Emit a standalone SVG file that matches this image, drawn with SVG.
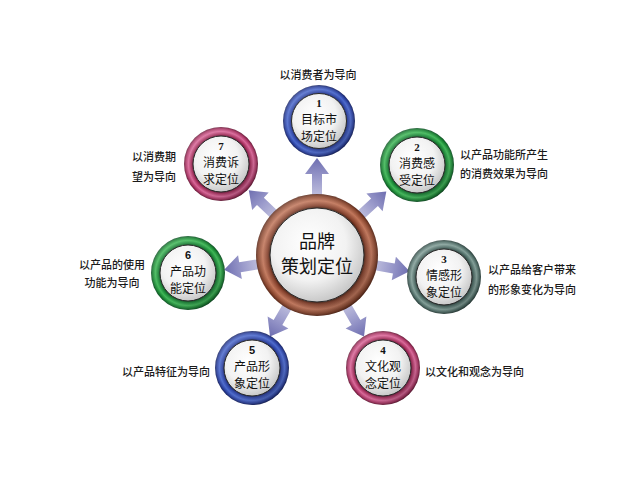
<svg xmlns="http://www.w3.org/2000/svg" xmlns:xlink="http://www.w3.org/1999/xlink" width="640" height="480" viewBox="0 0 640 480">
<style>
.num{font-family:"Liberation Serif","Times New Roman",serif;font-weight:bold;font-size:11px;fill:#111;text-anchor:middle}
.nums{font-family:"Liberation Sans",Arial,sans-serif;font-weight:bold;font-size:11px;fill:#111;text-anchor:middle}
.nt{font-family:"Noto Sans CJK SC","Noto Sans CJK JP",sans-serif;font-size:12px;fill:#111;text-anchor:middle}
.ct{font-family:"Noto Sans CJK SC","Noto Sans CJK JP",sans-serif;font-size:18px;fill:#111;text-anchor:middle}
.lb{font-family:"Noto Sans CJK SC","Noto Sans CJK JP",sans-serif;font-size:11px;fill:#1a1a1a;font-weight:500}
.inner{fill:url(#white);stroke:#2a2a2a;stroke-width:1}
</style>
<defs>
<radialGradient id="white" cx="0.42" cy="0.38" r="0.65">
<stop offset="0" stop-color="#ffffff"/>
<stop offset="0.6" stop-color="#f2f2f2"/>
<stop offset="1" stop-color="#c4c4c4"/>
</radialGradient>
<radialGradient id="ringBlue" cx="0.5" cy="0.5" r="0.5">
<stop offset="0.74" stop-color="#101a55"/>
<stop offset="0.8" stop-color="#2a40a0"/>
<stop offset="0.88" stop-color="#4a68cc"/>
<stop offset="0.95" stop-color="#283e9c"/>
<stop offset="1" stop-color="#141f5c"/>
</radialGradient>
<radialGradient id="ringGreen" cx="0.5" cy="0.5" r="0.5">
<stop offset="0.74" stop-color="#0a4218"/>
<stop offset="0.8" stop-color="#168032"/>
<stop offset="0.88" stop-color="#3db655"/>
<stop offset="0.95" stop-color="#178230"/>
<stop offset="1" stop-color="#0c4c22"/>
</radialGradient>
<radialGradient id="ringGrey" cx="0.5" cy="0.5" r="0.5">
<stop offset="0.74" stop-color="#20322e"/>
<stop offset="0.8" stop-color="#46645e"/>
<stop offset="0.88" stop-color="#7f9c95"/>
<stop offset="0.95" stop-color="#4a6862"/>
<stop offset="1" stop-color="#283c38"/>
</radialGradient>
<radialGradient id="ringPink" cx="0.5" cy="0.5" r="0.5">
<stop offset="0.74" stop-color="#560c2a"/>
<stop offset="0.8" stop-color="#a02a58"/>
<stop offset="0.88" stop-color="#d86496"/>
<stop offset="0.95" stop-color="#a83262"/>
<stop offset="1" stop-color="#641634"/>
</radialGradient>
<radialGradient id="ringBrown" cx="0.5" cy="0.5" r="0.5">
<stop offset="0.76" stop-color="#3a160a"/>
<stop offset="0.81" stop-color="#843f2a"/>
<stop offset="0.89" stop-color="#c07458"/>
<stop offset="0.96" stop-color="#88442c"/>
<stop offset="1" stop-color="#552414"/>
</radialGradient>
<linearGradient id="shade" x1="0.15" y1="0.1" x2="0.85" y2="0.9">
<stop offset="0" stop-color="#ffffff" stop-opacity="0.2"/>
<stop offset="0.5" stop-color="#ffffff" stop-opacity="0"/>
<stop offset="1" stop-color="#000000" stop-opacity="0.25"/>
</linearGradient>
<linearGradient id="arrowGrad" x1="0" y1="0" x2="1" y2="0">
<stop offset="0" stop-color="#d0d0e6"/>
<stop offset="0.55" stop-color="#9c9ccc"/>
<stop offset="1" stop-color="#6e6eb0"/>
</linearGradient>
<path id="arrow" d="M50,-5 L78,-5 L78,-12 L94,0 L78,12 L78,5 L50,5 Z" fill="url(#arrowGrad)"/>
<path id="arrowLong" d="M50,-5 L81,-5 L81,-12 L97,0 L81,12 L81,5 L50,5 Z" fill="url(#arrowGrad)"/>
</defs>
<rect width="640" height="480" fill="#ffffff"/>
<g id="connectors">
<use xlink:href="#arrowLong" transform="translate(317 255) rotate(-90)"/>
<use xlink:href="#arrow" transform="translate(317 255) rotate(-42.5)"/>
<use xlink:href="#arrow" transform="translate(317 255) rotate(10)"/>
<use xlink:href="#arrow" transform="translate(317 255) rotate(60)"/>
<use xlink:href="#arrow" transform="translate(317 255) rotate(120)"/>
<use xlink:href="#arrow" transform="translate(317 255) rotate(171)"/>
<use xlink:href="#arrow" transform="translate(317 255) rotate(-136.5)"/>
</g>
<g id="center" transform="translate(317 255)">
<circle r="61" fill="url(#ringBrown)"/>
<circle r="61" fill="url(#shade)"/>
<circle r="47" class="inner"/>
<text class="ct" y="-7">品牌</text>
<text class="ct" y="18">策划定位</text>
</g>
<g id="node-1" transform="translate(319 121)">
<circle r="36" fill="url(#ringBlue)"/>
<circle r="36" fill="url(#shade)"/>
<circle r="27.5" class="inner"/>
<text class="num" y="-14">1</text>
<text class="nt" y="2.5">目标市</text>
<text class="nt" y="20">场定位</text>
</g>
<g id="node-2" transform="translate(417 165)">
<circle r="37" fill="url(#ringGreen)"/>
<circle r="37" fill="url(#shade)"/>
<circle r="28" class="inner"/>
<text class="num" y="-14">2</text>
<text class="nt" y="2.5">消费感</text>
<text class="nt" y="20">受定位</text>
</g>
<g id="node-3" transform="translate(444 277)">
<circle r="37" fill="url(#ringGrey)"/>
<circle r="37" fill="url(#shade)"/>
<circle r="28" class="inner"/>
<text class="num" y="-14">3</text>
<text class="nt" y="2.5">情感形</text>
<text class="nt" y="20">象定位</text>
</g>
<g id="node-4" transform="translate(383 368)">
<circle r="37" fill="url(#ringPink)"/>
<circle r="37" fill="url(#shade)"/>
<circle r="28" class="inner"/>
<text class="num" y="-14">4</text>
<text class="nt" y="2.5">文化观</text>
<text class="nt" y="20">念定位</text>
</g>
<g id="node-5" transform="translate(252 368)">
<circle r="37" fill="url(#ringBlue)"/>
<circle r="37" fill="url(#shade)"/>
<circle r="28" class="inner"/>
<text class="nums" y="-14">5</text>
<text class="nt" y="2.5">产品形</text>
<text class="nt" y="20">象定位</text>
</g>
<g id="node-6" transform="translate(188 273)">
<circle r="37" fill="url(#ringGreen)"/>
<circle r="37" fill="url(#shade)"/>
<circle r="28" class="inner"/>
<text class="nums" y="-14">6</text>
<text class="nt" y="2.5">产品功</text>
<text class="nt" y="20">能定位</text>
</g>
<g id="node-7" transform="translate(221 164)">
<circle r="37" fill="url(#ringPink)"/>
<circle r="37" fill="url(#shade)"/>
<circle r="28" class="inner"/>
<text class="num" y="-14">7</text>
<text class="nt" y="2.5">消费诉</text>
<text class="nt" y="20">求定位</text>
</g>
<g id="labels">
<text class="lb" x="318" y="79" text-anchor="middle">以消费者为导向</text>
<text class="lb" x="460" y="159">以产品功能所产生</text>
<text class="lb" x="460" y="178">的消费效果为导向</text>
<text class="lb" x="488" y="274">以产品给客户带来</text>
<text class="lb" x="488" y="294">的形象变化为导向</text>
<text class="lb" x="425" y="376">以文化和观念为导向</text>
<text class="lb" x="122" y="376">以产品特征为导向</text>
<text class="lb" x="112" y="269" text-anchor="middle">以产品的使用</text>
<text class="lb" x="112" y="287" text-anchor="middle">功能为导向</text>
<text class="lb" x="132" y="161">以消费期</text>
<text class="lb" x="132" y="181">望为导向</text>
</g>
</svg>
